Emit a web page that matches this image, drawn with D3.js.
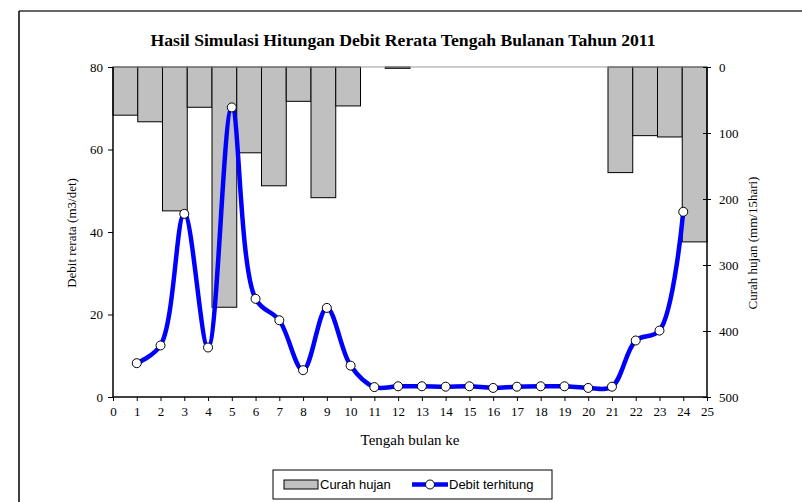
<!DOCTYPE html>
<html>
<head>
<meta charset="utf-8">
<script src="https://cdn.jsdelivr.net/npm/d3@7"></script>
<style>
  html, body { margin: 0; padding: 0; background: #fff; }
  svg { display: block; }
</style>
</head>
<body>
<svg id="chart" width="802" height="502"></svg>
<script>
// Half-month periods (1..24)
const periods = d3.range(1, 25);
// Rainfall per half-month (mm/15 hari)
const rainfall = [73, 83, 218, 61, 364, 130, 180, 52, 198, 59, 0, 2,
                  0, 0, 0, 0, 0, 0, 0, 0, 160, 104, 106, 265];
// Simulated mean discharge (m3/det)
const discharge = [8.2, 12.5, 44.4, 12.0, 70.2, 23.8, 18.6, 6.5, 21.6, 7.6, 2.4, 2.6,
                   2.6, 2.5, 2.6, 2.2, 2.5, 2.6, 2.6, 2.2, 2.5, 13.7, 16.1, 44.9];
const xTicks = d3.range(0, 26);
const yLeftTicks = [0, 20, 40, 60, 80];
const yRightTicks = [0, 100, 200, 300, 400, 500];

const svg = d3.select("#chart");
const L = 113, R = 707, T = 67, B = 397;

const x = d3.scaleLinear().domain([0, 25]).range([L, R]);
const xBand = d3.scaleBand().domain(periods).range([L, R]).padding(0);
const y = d3.scaleLinear().domain([0, 80]).range([B, T]);
const yRain = d3.scaleLinear().domain([0, 500]).range([T, B]);

// Outer frame
svg.append("line").attr("x1", 19).attr("x2", 802).attr("y1", 11).attr("y2", 11)
  .attr("stroke", "#666").attr("stroke-width", 2);
svg.append("line").attr("x1", 19).attr("x2", 19).attr("y1", 11).attr("y2", 502)
  .attr("stroke", "#000").attr("stroke-width", 1.5);

// Title
svg.append("text").attr("x", 403).attr("y", 46).attr("text-anchor", "middle")
  .attr("font-family", "Liberation Serif").attr("font-weight", "bold")
  .attr("font-size", 17).attr("textLength", 505).attr("lengthAdjust", "spacingAndGlyphs")
  .text("Hasil Simulasi Hitungan Debit Rerata Tengah Bulanan Tahun 2011");

// Rainfall bars hanging from the top
svg.append("g").selectAll("rect").data(periods).join("rect")
  .attr("x", d => xBand(d))
  .attr("y", yRain(0))
  .attr("width", xBand.bandwidth())
  .attr("height", (d, i) => yRain(rainfall[i]) - yRain(0))
  .attr("fill", "#c0c0c0")
  .attr("stroke", "#000").attr("stroke-width", 1);

// Top line of the bar axis
svg.append("line").attr("x1", L).attr("x2", R).attr("y1", T).attr("y2", T)
  .attr("stroke", "#999").attr("stroke-width", 1);

const serif = "Liberation Serif";

// Left axis
const gL = svg.append("g").attr("transform", `translate(${L},0)`)
  .call(d3.axisLeft(y).tickValues(yLeftTicks).tickSize(5).tickPadding(5));
// Right axis
const gR = svg.append("g").attr("transform", `translate(${R},0)`)
  .call(d3.axisRight(yRain).tickValues(yRightTicks).tickSize(4).tickPadding(8));
gR.selectAll(".tick line").attr("x1", -4);
// Bottom axis
const gB = svg.append("g").attr("transform", `translate(0,${B})`)
  .call(d3.axisBottom(x).tickValues(xTicks).tickSize(4).tickPadding(6));

[gL, gR, gB].forEach(g => {
  g.select(".domain").attr("stroke", "#000").attr("stroke-width", 1.5);
  g.selectAll(".tick line").attr("stroke", "#000").attr("stroke-width", 1);
  g.selectAll("text").attr("font-family", serif).attr("font-size", 13).attr("fill", "#000");
});
gL.select(".domain").attr("d", `M0,${B}V${T}`);
gR.select(".domain").attr("d", `M0,${T}V${B}`);
gB.select(".domain").attr("d", `M${L},0H${R}`);

// Axis titles
svg.append("text").attr("transform", `translate(76,233) rotate(-90)`)
  .attr("text-anchor", "middle").attr("font-family", serif).attr("font-size", 13)
  .text("Debit rerata (m3/det)");
svg.append("text").attr("transform", `translate(757,243) rotate(-90)`)
  .attr("text-anchor", "middle").attr("font-family", serif).attr("font-size", 13)
  .text("Curah hujan (mm/15hari)");
svg.append("text").attr("x", 410).attr("y", 445).attr("text-anchor", "middle")
  .attr("font-family", serif).attr("font-size", 15)
  .text("Tengah bulan ke");

// Discharge line (smoothed)
const line = d3.line()
  .x((d, i) => x(periods[i]))
  .y(d => y(d))
  .curve(d3.curveCatmullRom.alpha(0.5));
svg.append("path").datum(discharge).attr("d", line)
  .attr("fill", "none").attr("stroke", "#0000ff").attr("stroke-width", 4.5);
svg.append("g").selectAll("circle").data(discharge).join("circle")
  .attr("cx", (d, i) => x(periods[i])).attr("cy", d => y(d)).attr("r", 4.5)
  .attr("fill", "#fff").attr("stroke", "#000").attr("stroke-width", 1);

// Legend
const lg = svg.append("g");
lg.append("rect").attr("x", 273).attr("y", 470).attr("width", 279).attr("height", 29)
  .attr("fill", "#fff").attr("stroke", "#000").attr("stroke-width", 1);
lg.append("rect").attr("x", 284).attr("y", 480).attr("width", 34).attr("height", 9)
  .attr("fill", "#c0c0c0").attr("stroke", "#000").attr("stroke-width", 1);
lg.append("text").attr("x", 320).attr("y", 489).attr("font-family", "Liberation Sans")
  .attr("font-size", 13).text("Curah hujan");
lg.append("line").attr("x1", 412).attr("x2", 448).attr("y1", 484.5).attr("y2", 484.5)
  .attr("stroke", "#0000ff").attr("stroke-width", 4.5);
lg.append("circle").attr("cx", 430).attr("cy", 484.5).attr("r", 4.5)
  .attr("fill", "#fff").attr("stroke", "#000").attr("stroke-width", 1);
lg.append("text").attr("x", 449).attr("y", 489).attr("font-family", "Liberation Sans")
  .attr("font-size", 13).text("Debit terhitung");
</script>
</body>
</html>
